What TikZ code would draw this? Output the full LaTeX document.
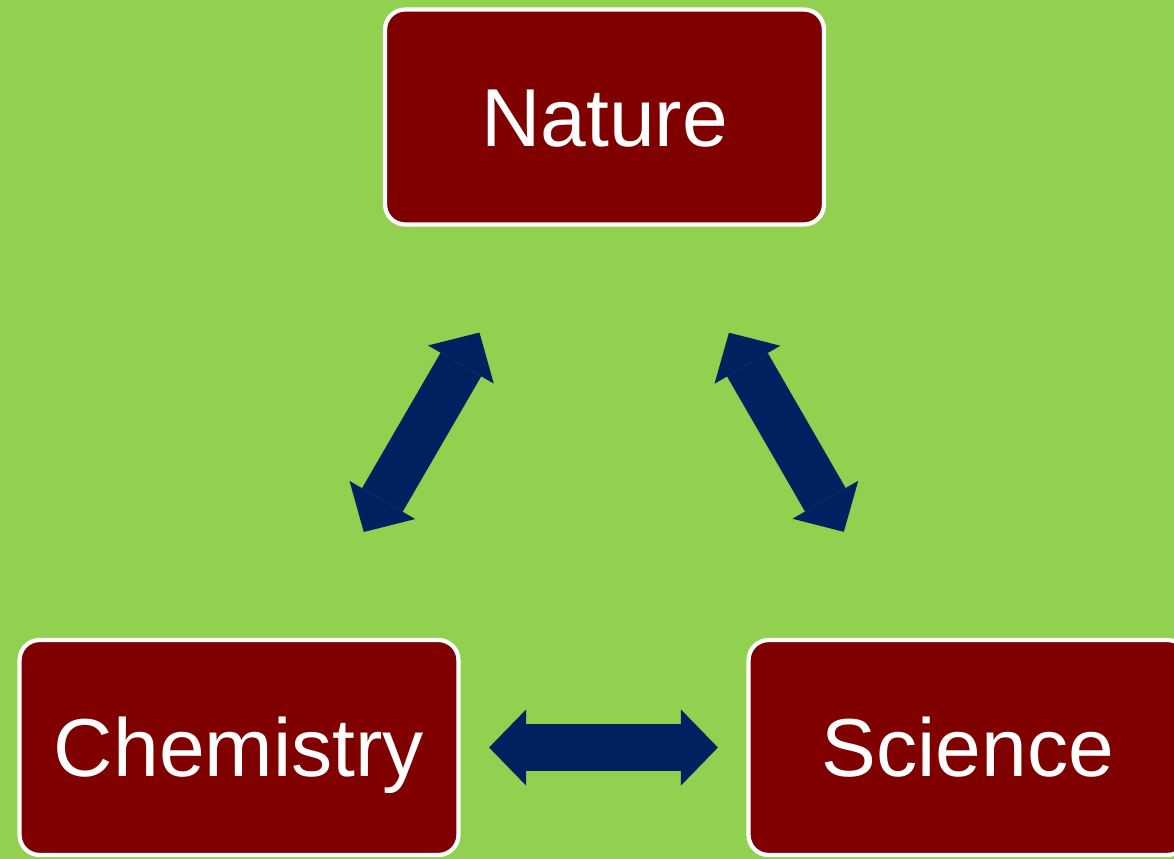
\documentclass[tikz,border=0pt]{standalone}
\usepackage{fontspec}
\setmainfont{Liberation Sans}
\usetikzlibrary{arrows.meta}

\definecolor{bggreen}{RGB}{146,208,80}
\definecolor{boxred}{RGB}{128,0,0}
\definecolor{navyblue}{RGB}{0,32,96}

\begin{document}
\begin{tikzpicture}[
            x=0.02cm, y=-0.02cm,
            box/.style={rectangle, draw=white, line width=0.085cm, rounded corners=0.4cm, fill=boxred, text=white, minimum width=8.78cm, minimum height=4.3cm, inner sep=0pt, text height=33.5pt, text depth=0pt, font=\fontsize{46.8}{56}\selectfont},
            link/.style={line width=0.94cm, navyblue, {Triangle[length=0.74cm, width=1.52cm, line width=0pt 0]}-{Triangle[length=0.74cm, width=1.52cm, line width=0pt 0]}},
            diag/.style={link, shorten <=2.45cm, shorten >=2.45cm},
            flat/.style={link, shorten <=0.57cm, shorten >=0.57cm}
            ]

            % Background
            \useasboundingbox (0,0) rectangle (1174,859);
            \fill[bggreen] (0,0) rectangle (1174,859);

            % Boxes
            \node[box] (nature) at (604.5,117) {Nature};
            \node[box] (chemistry) at (239,747.5) {Chemistry};
            \node[box] (science) at (968,747.5) {Science};

            % Double arrows between the boxes
            \draw[diag] (nature) -- (chemistry);
            \draw[diag] (nature) -- (science);
            \draw[flat] (chemistry) -- (science);

        \end{tikzpicture}
\end{document}
